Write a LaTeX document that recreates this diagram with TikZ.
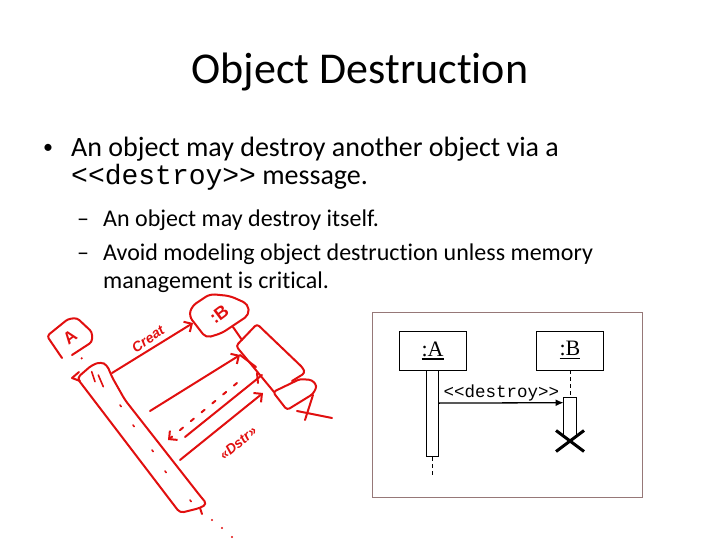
\documentclass[tikz,border=0pt]{standalone}
\usepackage{fontspec}
\setmainfont{Carlito}[Ligatures=NoCommon]
\newfontfamily\umlfont{Liberation Serif}
\newfontfamily\codefont{Liberation Mono}
\newfontfamily\handfont{Liberation Sans}
\usetikzlibrary{positioning, arrows.meta, shapes.misc}
\definecolor{inkred}{RGB}{225,15,15}
\definecolor{framegray}{RGB}{150,120,120}
\newcommand{\objname}[1]{\setbox0\hbox{#1}\rlap{\rule[-3.5pt]{\wd0}{1.8pt}}\box0}

\begin{document}
\begin{tikzpicture}[x=1pt, y=-1pt,
    title/.style={font=\fontsize{44}{50}\selectfont, anchor=base, inner sep=0pt},
    body/.style={font=\fontsize{28}{34}\selectfont, anchor=base west, inner sep=0pt},
    subbody/.style={font=\fontsize{24}{29}\selectfont, anchor=base west, inner sep=0pt},
    obj/.style={draw, line width=0.8pt, minimum width=67pt, minimum height=39pt, font=\umlfont\fontsize{22}{24}\selectfont},
    bar/.style={fill=white, minimum width=12.5pt, inner sep=0pt},
    life/.style={dash pattern=on 4pt off 3pt, line width=0.7pt},
    ink/.style={draw=inkred, line width=2pt, line cap=round, line join=round},
    inktext/.style={text=inkred, inner sep=0pt, font=\handfont\bfseries\itshape\fontsize{14}{14}\selectfont}]

  \useasboundingbox (0,0) rectangle (720,540);

  % slide text
  \node[title] (title) at (360,84) {Object Destruction};
  \node[body, anchor=base, font=\fontsize{20}{24}\selectfont] (dot1) at (48,154) {•};
  \node[body] (b1) at (71,157) {An object may destroy another object via a};
  \node[body] (b1b) at (71,185) {{\codefont\fontsize{28}{34}\selectfont <{}<destroy>{}>} message.};
  \node[subbody] (dash1) at (77,226) {–};
  \node[subbody] (s1) at (103,226) {An object may destroy itself.};
  \node[subbody] (dash2) at (77,260) {–};
  \node[subbody] (s2) at (103,260) {Avoid modeling object destruction unless memory};
  \node[subbody] (s2b) at (103,288) {management is critical.};

  % sequence diagram
  \node[draw=framegray, line width=1pt, minimum width=270pt, minimum height=185pt] (frame) at (507,404.5) {};
  \node[obj] (objA) at (432.5,350.5) {\objname{:A}};
  \node[obj] (objB) at (570,350.5) {\objname{:B}};
  \node[bar, draw, line width=0.8pt, minimum height=86pt, anchor=north] (barA) at (objA.south) {};
  \coordinate (endA) at (432.5,478);
  \draw[life] (barA.south) -- (endA);
  \node[bar, minimum height=39pt, anchor=north] (barB) at (570,397) {};
  \draw[life] (objB.south) -- (barB.north);
  \draw[line width=0.8pt] (barB.south west) -- (barB.north west) -- (barB.north east) -- (barB.south east);
  \node[draw, cross out, line width=3pt, minimum width=25pt, minimum height=18pt, inner sep=0pt] (killB) at (570,441) {};
  \draw[-{Latex[length=8pt,width=7pt]}, line width=1.3pt] ([yshift=-32.7pt]barA.north east) -- ([yshift=-5.7pt]barB.north west)
    node[midway, above=1pt, inner sep=0.5pt, font=\codefont\fontsize{17.5}{18}\selectfont] (msg) {<{}<destroy>{}>};

  % red sketch over the slide
  \draw[ink, rounded corners=3pt] (62,358) -- (47,336) -- (68,319) -- (77,318) -- (92,332) -- (92,342) -- (72,355);
  \node[inktext, rotate=37, font=\handfont\bfseries\fontsize{17}{17}\selectfont] (skA) at (70,337) {A};
  \fill[inkred] (81.7,358.3) circle (1.2);

  \draw[ink, rounded corners=4pt] (180,513) -- (77,378) -- (92,365) -- (101,362) -- (107,365) -- (112,377) -- (125,400) -- (201,497) -- (207,504) -- (200,508) -- cycle;
  \draw[ink] (79,372) -- (72,378) -- (80,381);
  \draw[ink, line width=1.6pt] (91.7,371.7) -- (95,381.7) (98.3,375) -- (103.3,386.7);
  \foreach \px/\py in {120/405, 133/425, 152/450, 165/471, 190/500}
    \draw[ink, line width=1.6pt] (\px,\py) -- ++(1.2,1.6);
  \draw[ink] (200,508) -- (202,514);
  \foreach \px/\py in {212/520, 222/528, 232/537}
    \fill[inkred] (\px,\py) circle (1.2);

  \draw[ink, -{Straight Barb[length=6pt]}] (112,373) -- (193,323);
  \node[inktext, rotate=34] (skCreate) at (148,339) {Creat};

  \draw[ink, rounded corners=5pt] (206,338) -- (189,316) -- (192,306) -- (210,294) -- (230,296) -- (248,304) -- (249,315) -- (222,333) -- cycle;
  \node[inktext, rotate=37, font=\handfont\bfseries\fontsize{18}{18}\selectfont] (skB) at (219,314) {:B};
  \draw[ink] (233,327) -- (242,340);

  \draw[ink, rounded corners=3pt] (274,392) -- (236,346) -- (257,324) -- (303,368) -- (305,373) -- (292,381);
  \draw[ink, rounded corners=3pt] (273,392) -- (300,379) -- (312,380) -- (317,386) -- (313,394) -- (287,410) -- cycle;
  \draw[ink] (297,411) -- (332,418) (313,395) -- (305,420);

  \draw[ink, -{Straight Barb[length=6pt]}] (150,411) -- (240,355);
  \draw[ink] (240,355) -- (256,367) (257,373) -- (258,383);
  \draw[ink, dash pattern=on 4pt off 10pt, -{Straight Barb[length=6pt]}] (237,383) -- (168,440);
  \draw[ink] (185,437) -- (262,375);
  \draw[ink, -{Straight Barb[length=6pt]}] (180,460) -- (263,393);
  \node[inktext, rotate=40] (skDestroy) at (238,443) {«Dstr»};
\end{tikzpicture}
\end{document}
